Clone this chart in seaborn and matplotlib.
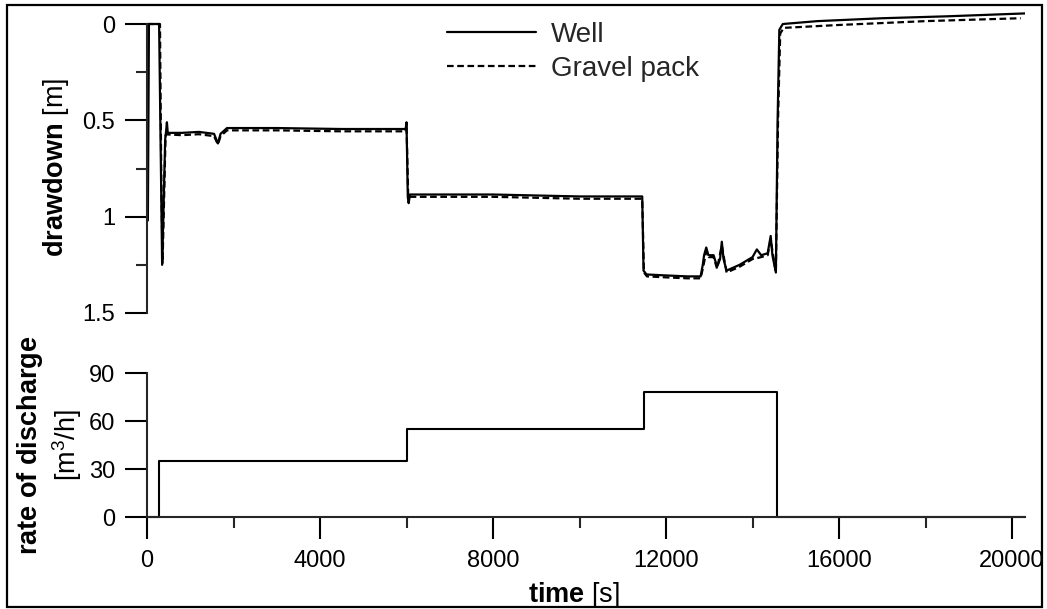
import numpy as np
import pandas as pd
import matplotlib.pyplot as plt
import seaborn as sns
from matplotlib.patches import Rectangle
from matplotlib.ticker import MultipleLocator, FixedLocator

# ---------------------------------------------------------------
# data
# ---------------------------------------------------------------
well_time = [20, 45, 280, 350, 420, 440, 460, 480, 800, 1200, 1550, 1640, 1700,
             1850, 3000, 4500, 5980, 6000, 6030, 6050, 6080, 8000, 10000, 11450,
             11480, 11550, 12000, 12500, 12800, 12850, 12880, 12930, 12980, 13100,
             13180, 13250, 13290, 13330, 13400, 13700, 14000, 14100, 14200, 14350,
             14420, 14460, 14540, 14580, 14620, 14700, 15500, 17000, 18500, 20300]
well_drawdown = [1.02, 0.0, 0.0, 1.25, 0.60, 0.56, 0.51, 0.565, 0.565, 0.56, 0.57, 0.62, 0.57,
                 0.54, 0.54, 0.545, 0.545, 0.51, 0.90, 0.93, 0.885, 0.885, 0.895, 0.895,
                 1.28, 1.30, 1.305, 1.31, 1.31, 1.25, 1.20, 1.16, 1.20, 1.20,
                 1.26, 1.22, 1.13, 1.22, 1.28, 1.25, 1.21, 1.17, 1.20, 1.19,
                 1.10, 1.20, 1.29, 0.50, 0.03, 0.0, -0.015, -0.03, -0.04, -0.055]

gravel_time = [0, 300, 330, 360, 430, 460, 800, 1200, 1550, 1640, 1700, 1850, 3000,
               4500, 5980, 6000, 6040, 6080, 8000, 10000, 11450, 11490, 11560, 12000,
               12500, 12800, 12860, 12930, 12990, 13100, 13180, 13290, 13400, 13700,
               14000, 14200, 14350, 14420, 14540, 14590, 14640, 14720, 16000, 18000, 20200]
gravel_drawdown = [0.0, 0.0, 0.8, 1.24, 0.577, 0.573, 0.577, 0.572, 0.582, 0.625, 0.582, 0.552, 0.552,
                   0.557, 0.557, 0.52, 0.90, 0.897, 0.897, 0.907, 0.907, 1.29, 1.31, 1.315,
                   1.32, 1.32, 1.26, 1.18, 1.21, 1.21, 1.27, 1.15, 1.29, 1.26,
                   1.22, 1.21, 1.20, 1.12, 1.29, 0.50, 0.05, 0.02, 0.005, -0.015, -0.03]

rate_time = [0, 280, 6000, 11480, 14560, 20300]
rate_q = [0, 35, 55, 78, 0, 0]

x_ticks = [0, 4000, 8000, 12000, 16000, 20000]
dd_ticks = [0, 0.5, 1, 1.5]
dd_labels = ['0', '0.5', '1', '1.5']
q_ticks = [0, 30, 60, 90]

well_df = pd.DataFrame({'time': well_time, 'drawdown': well_drawdown})
gravel_df = pd.DataFrame({'time': gravel_time, 'drawdown': gravel_drawdown})
rate_df = pd.DataFrame({'time': rate_time, 'q': rate_q})

# ---------------------------------------------------------------
# style
# ---------------------------------------------------------------
sns.set_theme(style='ticks')
plt.rcParams['font.family'] = ['Liberation Sans', 'DejaVu Sans']
plt.rcParams['mathtext.fontset'] = 'custom'
plt.rcParams['mathtext.rm'] = 'Liberation Sans'
plt.rcParams['mathtext.bf'] = 'Liberation Sans:bold'
plt.rcParams['mathtext.it'] = 'Liberation Sans:italic'

W, H = 1047, 609
fig = plt.figure(figsize=(W / 100, H / 100), dpi=100)
fig.patch.set_facecolor('white')

ax1 = fig.add_axes([147 / W, 1 - 313 / H, 878 / W, (313 - 8.6) / H])
ax2 = fig.add_axes([147 / W, 1 - 517 / H, 878 / W, 144 / H])

# ---------------------------------------------------------------
# top panel: drawdown
# ---------------------------------------------------------------
sns.lineplot(data=well_df, x='time', y='drawdown', estimator=None, sort=False,
             color='black', lw=2.3, ax=ax1, label='Well')
sns.lineplot(data=gravel_df, x='time', y='drawdown', estimator=None, sort=False,
             color='black', lw=1.7, linestyle=(0, (3, 1.6)), ax=ax1, label='Gravel pack')

ax1.set_xlim(0, 20300)
ax1.set_ylim(1.5, -0.08)
for s in ['top', 'right', 'bottom']:
    ax1.spines[s].set_visible(False)
ax1.spines['left'].set_bounds(0, 1.5)
ax1.spines['left'].set_linewidth(1.5)
ax1.set_xticks([])
ax1.yaxis.set_major_locator(FixedLocator(dd_ticks))
ax1.set_yticklabels(dd_labels)
ax1.yaxis.set_minor_locator(FixedLocator([0.25, 0.75, 1.25]))
ax1.tick_params(axis='y', which='major', direction='out', length=16, width=1.5,
                labelsize=17, pad=7, colors='black')
ax1.tick_params(axis='y', which='minor', direction='out', length=8, width=1.5)
ax1.set_xlabel('')
ax1.set_ylabel(r'$\mathbf{drawdown}$ [m]', fontsize=19.5, color='black')
ax1.yaxis.set_label_coords(-0.086, 0.48)

handles, labels = ax1.get_legend_handles_labels()
for h in handles:
    h.set_linewidth(1.6)
ax1.legend(handles, labels, frameon=False, loc='upper left',
           bbox_to_anchor=(447 / W, 1 - 22 / H), bbox_transform=fig.transFigure,
           fontsize=20, handlelength=3.2, handletextpad=0.55, labelspacing=0.28,
           borderpad=0, borderaxespad=0)

# ---------------------------------------------------------------
# bottom panel: rate of discharge
# ---------------------------------------------------------------
sns.lineplot(data=rate_df, x='time', y='q', estimator=None, sort=False,
             color='black', lw=1.5, drawstyle='steps-post', clip_on=False, ax=ax2)

ax2.set_xlim(0, 20300)
ax2.set_ylim(0, 90)
for s in ['top', 'right']:
    ax2.spines[s].set_visible(False)
ax2.spines['left'].set_linewidth(1.5)
ax2.spines['bottom'].set_linewidth(1.5)
ax2.set_xticks(x_ticks)
ax2.xaxis.set_minor_locator(MultipleLocator(2000))
ax2.set_yticks(q_ticks)
ax2.tick_params(axis='both', which='major', direction='out', length=16, width=1.5,
                labelsize=17, colors='black')
ax2.tick_params(axis='x', which='major', pad=8)
ax2.tick_params(axis='y', which='major', pad=7)
ax2.tick_params(axis='x', which='minor', direction='out', length=8, width=1.5)

ax2.set_xlabel(r'$\mathbf{time}$ [s]', fontsize=19.5, color='black')
ax2.xaxis.set_label_coords(0.486, -0.44)
ax2.set_ylabel(r'$\mathbf{rate\ of\ discharge}$' + '\n' + r'[m$^3$/h]',
               fontsize=19.5, color='black', linespacing=1.2)
ax2.yaxis.set_label_coords(-0.072, 0.5)

# frame around the whole figure
fig.patches.append(Rectangle((7 / W, 2 / H), (1042 - 7) / W, (607 - 5) / H,
                             transform=fig.transFigure, fill=False,
                             edgecolor='black', lw=1.6))

fig.savefig('out.png', dpi=100)
